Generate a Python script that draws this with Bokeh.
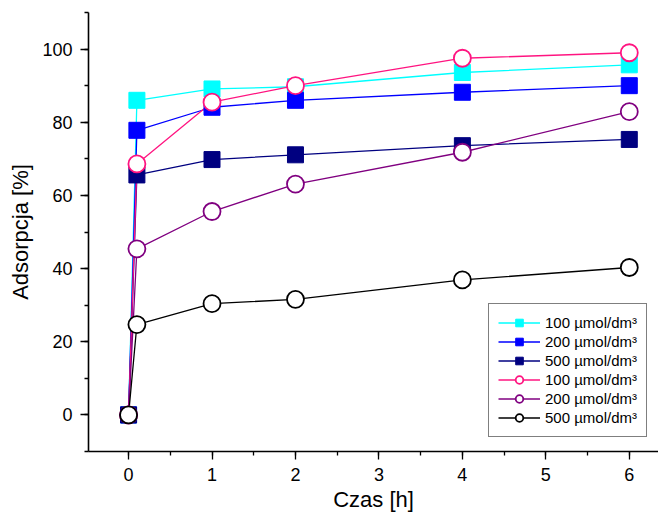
from bokeh.plotting import figure
from bokeh.models import Range1d, SingleIntervalTicker, Legend, LegendItem
from bokeh.embed import file_html
from bokeh.resources import INLINE

# Data
time_h = [0, 0.1, 1, 2, 4, 6]
sq_100 = [0, 86.0, 89.1, 89.7, 93.6, 95.7]
sq_200 = [0, 77.8, 84.1, 86.0, 88.2, 90.0]
sq_500 = [0, 65.6, 69.8, 71.1, 73.6, 75.3]
ci_100 = [0, 68.6, 85.5, 90.0, 97.5, 99.0]
ci_200 = [0, 45.4, 55.6, 63.1, 71.8, 82.9]
ci_500 = [0, 24.7, 30.4, 31.6, 36.9, 40.3]
labels = ["100 µmol/dm³", "200 µmol/dm³", "500 µmol/dm³",
          "100 µmol/dm³", "200 µmol/dm³", "500 µmol/dm³"]

FONT = "Liberation Sans"

p = figure(width=658, height=514, output_backend="svg", toolbar_location=None,
           x_range=Range1d(-0.48, 6.35), y_range=Range1d(-10, 110),
           min_border_left=88, min_border_top=12, min_border_bottom=62, min_border_right=0)
p.outline_line_color = None
p.xgrid.grid_line_color = None
p.ygrid.grid_line_color = None
p.background_fill_color = "white"

p.xaxis.ticker = SingleIntervalTicker(interval=1, num_minor_ticks=2)
p.yaxis.ticker = SingleIntervalTicker(interval=20, num_minor_ticks=2)
for ax in (p.xaxis[0], p.yaxis[0]):
    ax.axis_line_width = 1.6
    ax.axis_line_color = "black"
    ax.major_tick_line_color = "black"
    ax.minor_tick_line_color = "black"
    ax.major_tick_line_width = 1.3
    ax.minor_tick_line_width = 1.3
    ax.major_tick_in = 0
    ax.minor_tick_in = 0
    ax.major_tick_out = 8
    ax.minor_tick_out = 4
    ax.major_label_text_font = FONT
    ax.major_label_text_font_size = "18px"
    ax.major_label_text_color = "black"
    ax.axis_label_text_font = FONT
    ax.axis_label_text_font_size = "22px"
    ax.axis_label_text_font_style = "normal"
    ax.axis_label_text_color = "black"
p.xaxis.axis_label = "Czas [h]"
p.yaxis.axis_label = "Adsorpcja [%]"
p.xaxis.major_label_standoff = 8
p.xaxis.axis_label_standoff = 3
p.yaxis.major_label_standoff = 8
p.yaxis.axis_label_standoff = 6

sq_series = [(sq_100, "#00FFFF"), (sq_200, "#0000FF"), (sq_500, "#000080")]
ci_series = [(ci_100, "#FF1480"), (ci_200, "#800080"), (ci_500, "#000000")]

line_rs = []
for ys, c in sq_series + ci_series:
    line_rs.append(p.line(time_h, ys, line_color=c, line_width=1.3))

mark_rs = []
for ys, c in sq_series:
    mark_rs.append(p.scatter(time_h, ys, marker="square", size=16,
                             fill_color=c, line_color=c, line_width=1))
for ys, c in ci_series:
    mark_rs.append(p.scatter(time_h, ys, marker="circle", size=17,
                             fill_color="white", line_color=c, line_width=1.8))

items = [LegendItem(label=labels[i], renderers=[line_rs[i], mark_rs[i]]) for i in range(6)]
legend = Legend(items=items, location=(400, 14))
legend.glyph_width = 42
legend.glyph_height = 19
legend.label_height = 19
legend.spacing = 0
legend.padding = 9
legend.margin = 0
legend.label_standoff = 5
legend.label_text_font = FONT
legend.label_text_font_size = "15px"
legend.label_text_color = "black"
legend.border_line_color = "black"
legend.border_line_width = 1.6
legend.background_fill_color = "white"
legend.background_fill_alpha = 1
p.add_layout(legend, "center")

open("out.html", "w").write(file_html(p, INLINE))
